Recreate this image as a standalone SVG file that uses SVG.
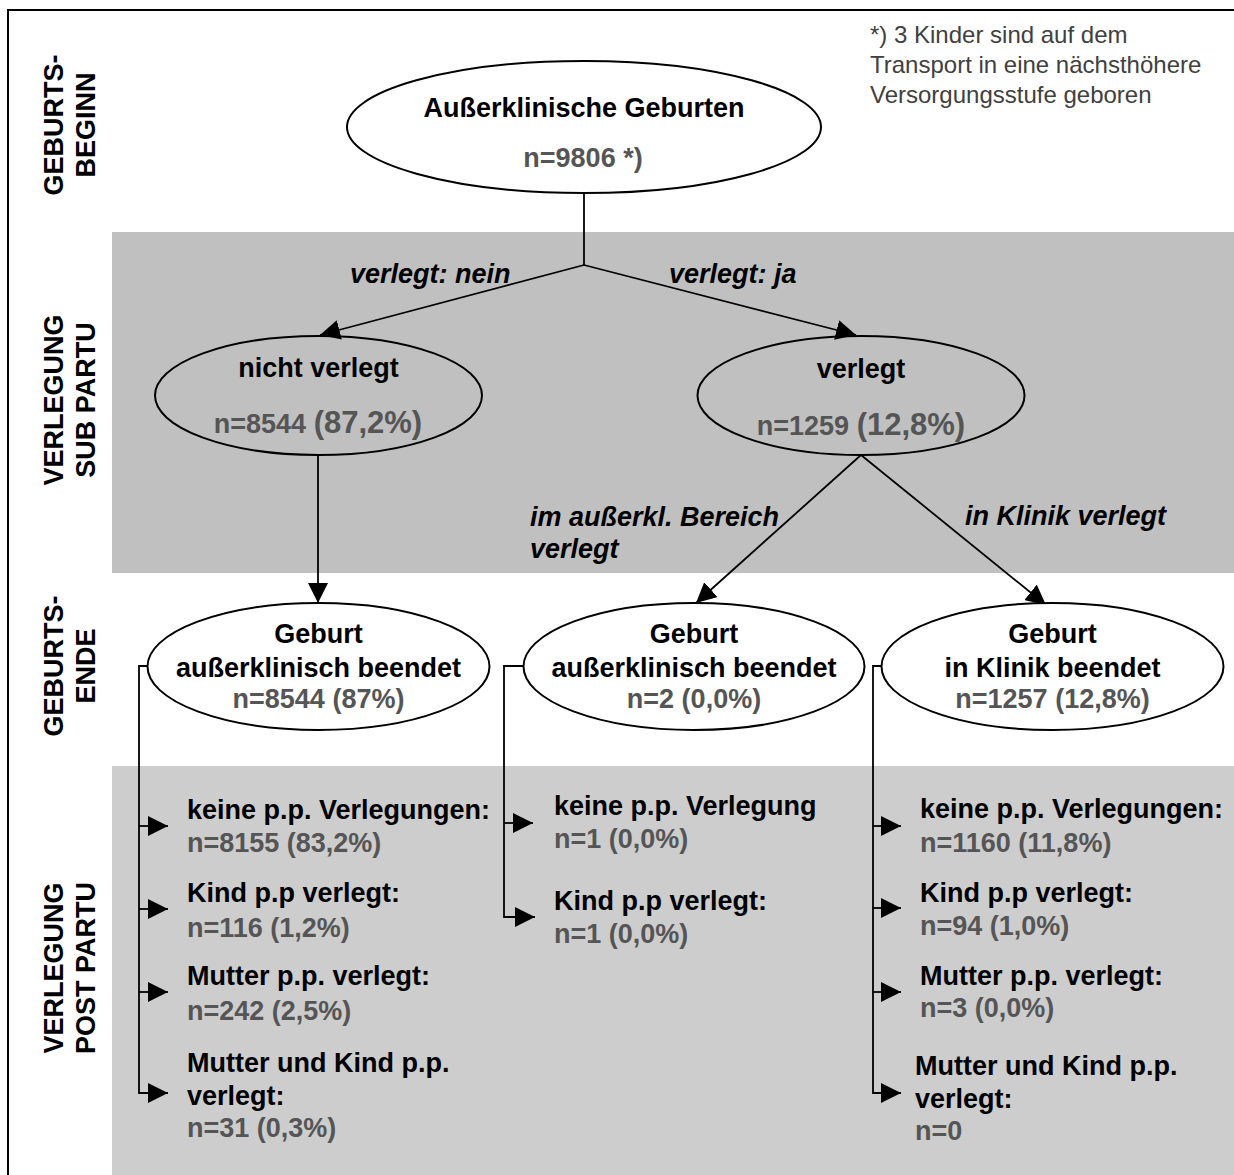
<svg xmlns="http://www.w3.org/2000/svg" width="1234" height="1175" viewBox="0 0 1234 1175">
<style>
text{font-family:"Liberation Sans",Arial,Helvetica,sans-serif;font-weight:bold;font-size:27px;fill:#000}
.c{text-anchor:middle}
.g{fill:#555}
.big{font-size:31px}
.it{font-style:italic}
.fn{font-weight:normal;font-size:24px;fill:#404040}
.ph{text-anchor:middle}
.node{stroke:#000;stroke-width:2}
.w{fill:#fff}
.t{fill:none}
.ln{fill:none;stroke:#000;stroke-width:1.8}
.ar{marker-end:url(#ah)}
</style>
<defs>
<marker id="ah" markerUnits="userSpaceOnUse" markerWidth="20" markerHeight="20" refX="20" refY="10" orient="auto">
<path d="M0,0 L20,10 L0,20 z" fill="#000"/>
</marker>
</defs>
<rect x="0" y="0" width="1234" height="1175" fill="#fff"/>
<g id="bands">
<rect x="112" y="232" width="1122" height="341" fill="#c0c0c0"/>
<rect x="112" y="766" width="1122" height="409" fill="#cdcdcd"/>
</g>
<g id="frame" fill="none" stroke="#000" stroke-width="2">
<path d="M8,1175 V10 H1234"/>
</g>
<g id="phases">
<text class="ph" transform="translate(63,125) rotate(-90)">GEBURTS-</text>
<text class="ph" transform="translate(95,125) rotate(-90)">BEGINN</text>
<text class="ph" transform="translate(63,400) rotate(-90)">VERLEGUNG</text>
<text class="ph" transform="translate(95,400) rotate(-90)">SUB PARTU</text>
<text class="ph" transform="translate(63,666) rotate(-90)">GEBURTS-</text>
<text class="ph" transform="translate(95,666) rotate(-90)">ENDE</text>
<text class="ph" transform="translate(63,968) rotate(-90)">VERLEGUNG</text>
<text class="ph" transform="translate(95,968) rotate(-90)">POST PARTU</text>
</g>
<g id="footnote">
<text class="fn" x="870" y="43">*) 3 Kinder sind auf dem</text>
<text class="fn" x="870" y="73">Transport in eine nächsthöhere</text>
<text class="fn" x="870" y="103">Versorgungsstufe geboren</text>
</g>
<g id="connectors">
<path class="ln" d="M584,193 V265"/>
<path class="ln ar" d="M584,265 L320,335"/>
<path class="ln ar" d="M584,265 L856,335"/>
<path class="ln ar" d="M318,455 V603"/>
<path class="ln ar" d="M861,455 L696,603"/>
<path class="ln ar" d="M861,455 L1046,605"/>
<path class="ln ar" d="M148,666 H139 V1093 H168"/>
<path class="ln ar" d="M139,826 H168"/>
<path class="ln ar" d="M139,909 H168"/>
<path class="ln ar" d="M139,992 H168"/>
<path class="ln ar" d="M524,666 H504 V917 H535"/>
<path class="ln ar" d="M504,823 H533"/>
<path class="ln ar" d="M882,666 H873 V1093 H901"/>
<path class="ln ar" d="M873,826 H901"/>
<path class="ln ar" d="M873,908 H901"/>
<path class="ln ar" d="M873,992 H901"/>
<text class="it" x="350" y="283">verlegt: nein</text>
<text class="it" x="669" y="283">verlegt: ja</text>
<text class="it" x="530" y="526">im außerkl. Bereich</text>
<text class="it" x="530" y="558">verlegt</text>
<text class="it" x="965" y="525">in Klinik verlegt</text>
</g>
<g id="n-start">
<ellipse class="node w" cx="584" cy="127" rx="237" ry="66"/>
<text class="c" x="584" y="117">Außerklinische Geburten</text>
<text class="c g" x="583" y="167">n=9806 *)</text>
</g>
<g id="n-nicht-verlegt">
<ellipse class="node t" cx="318.5" cy="395.5" rx="163.5" ry="59.5"/>
<text class="c" x="318.5" y="377">nicht verlegt</text>
<text class="c g" x="318" y="433">n=8544 <tspan class="big">(87,2%)</tspan></text>
</g>
<g id="n-verlegt">
<ellipse class="node t" cx="861" cy="395.5" rx="163.5" ry="59.5"/>
<text class="c" x="861" y="378">verlegt</text>
<text class="c g" x="861" y="435">n=1259 <tspan class="big">(12,8%)</tspan></text>
</g>
<g id="n-end-aussen1">
<ellipse class="node w" cx="318.5" cy="666.5" rx="171" ry="63.5"/>
<text class="c" x="318.5" y="643">Geburt</text>
<text class="c" x="318.5" y="677">außerklinisch beendet</text>
<text class="c g" x="318.5" y="708">n=8544 (87%)</text>
</g>
<g id="n-end-aussen2">
<ellipse class="node w" cx="694" cy="666.5" rx="170.5" ry="63.5"/>
<text class="c" x="694" y="643">Geburt</text>
<text class="c" x="694" y="677">außerklinisch beendet</text>
<text class="c g" x="694" y="708">n=2 (0,0%)</text>
</g>
<g id="n-end-klinik">
<ellipse class="node w" cx="1052.5" cy="666.5" rx="171" ry="63.5"/>
<text class="c" x="1052.5" y="643">Geburt</text>
<text class="c" x="1052.5" y="677">in Klinik beendet</text>
<text class="c g" x="1052.5" y="708">n=1257 (12,8%)</text>
</g>
<g id="l1-keine">
<text x="187" y="819">keine p.p. Verlegungen:</text>
<text class="g" x="187" y="852">n=8155 (83,2%)</text>
</g>
<g id="l1-kind">
<text x="187" y="902">Kind p.p verlegt:</text>
<text class="g" x="187" y="937">n=116 (1,2%)</text>
</g>
<g id="l1-mutter">
<text x="187" y="985">Mutter p.p. verlegt:</text>
<text class="g" x="187" y="1020">n=242 (2,5%)</text>
</g>
<g id="l1-beide">
<text x="187" y="1072">Mutter und Kind p.p.</text>
<text x="187" y="1105">verlegt:</text>
<text class="g" x="187" y="1137">n=31 (0,3%)</text>
</g>
<g id="l2-keine">
<text x="554" y="815">keine p.p. Verlegung</text>
<text class="g" x="554" y="848">n=1 (0,0%)</text>
</g>
<g id="l2-kind">
<text x="554" y="910">Kind p.p verlegt:</text>
<text class="g" x="554" y="943">n=1 (0,0%)</text>
</g>
<g id="l3-keine">
<text x="920" y="818">keine p.p. Verlegungen:</text>
<text class="g" x="920" y="852">n=1160 (11,8%)</text>
</g>
<g id="l3-kind">
<text x="920" y="902">Kind p.p verlegt:</text>
<text class="g" x="920" y="935">n=94 (1,0%)</text>
</g>
<g id="l3-mutter">
<text x="920" y="985">Mutter p.p. verlegt:</text>
<text class="g" x="920" y="1017">n=3 (0,0%)</text>
</g>
<g id="l3-beide">
<text x="915" y="1075">Mutter und Kind p.p.</text>
<text x="915" y="1108">verlegt:</text>
<text class="g" x="915" y="1140">n=0</text>
</g>
</svg>
